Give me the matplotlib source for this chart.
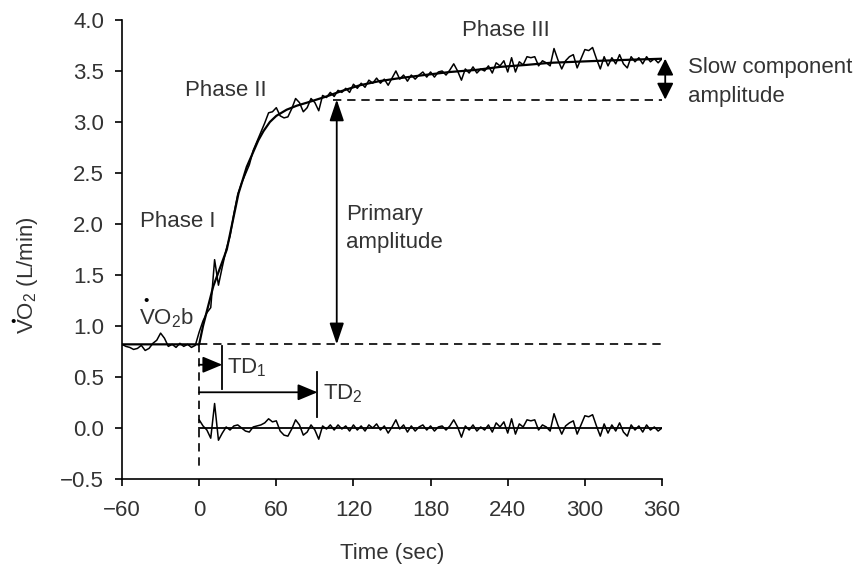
import matplotlib
matplotlib.use("Agg")
import matplotlib.pyplot as plt

plt.rcParams['font.family'] = ['Liberation Sans', 'DejaVu Sans']
plt.rcParams['mathtext.fontset'] = 'custom'
plt.rcParams['mathtext.rm'] = 'Liberation Sans'
plt.rcParams['mathtext.it'] = 'Liberation Sans:italic'

TXT = '#333333'
FS = 16

# breath-by-breath VO2 (L/min), every 3 s from -60 to 360
t_data = list(range(-60, 361, 3))
vo2_pre = [0.82, 0.80, 0.79, 0.77, 0.78, 0.81, 0.76, 0.78, 0.83, 0.86,
           0.93, 0.88, 0.80, 0.82, 0.79, 0.83, 0.80, 0.82, 0.79, 0.81]
vo2_ex = [0.94, 1.05, 1.13, 1.18, 1.65, 1.40, 1.58, 1.75, 1.88, 2.10,
          2.29, 2.40, 2.49, 2.58, 2.72, 2.81, 2.90, 2.99, 3.09, 3.10,
          3.14, 3.06, 3.04, 3.05, 3.13, 3.23, 3.19, 3.10, 3.14, 3.23,
          3.19, 3.11, 3.26, 3.24, 3.29, 3.25, 3.31, 3.29, 3.33, 3.29,
          3.37, 3.33, 3.38, 3.34, 3.41, 3.38, 3.43, 3.38, 3.42, 3.36,
          3.43, 3.50, 3.42, 3.46, 3.40, 3.46, 3.42, 3.46, 3.49, 3.44,
          3.49, 3.44, 3.49, 3.50, 3.46, 3.51, 3.57, 3.50, 3.41, 3.52,
          3.48, 3.54, 3.48, 3.52, 3.50, 3.55, 3.48, 3.58, 3.55, 3.60,
          3.49, 3.63, 3.49, 3.59, 3.56, 3.64, 3.63, 3.64, 3.55, 3.60,
          3.58, 3.55, 3.72, 3.61, 3.52, 3.60, 3.64, 3.66, 3.53, 3.62,
          3.71, 3.70, 3.73, 3.62, 3.52, 3.64, 3.55, 3.63, 3.57, 3.66,
          3.57, 3.53, 3.64, 3.59, 3.63, 3.57, 3.64, 3.59, 3.62, 3.58,
          3.62]
vo2 = vo2_pre + vo2_ex

# model fit
t_fit = [-60, 0, 3, 11, 21.5, 30.6, 37, 46, 50, 55, 60, 68, 76, 84, 99, 110,
         125, 140, 156, 175, 195, 215, 234, 255, 273, 292, 312, 335, 360]
vo2_fit = [0.82, 0.82, 1.00, 1.39, 1.75, 2.30, 2.56, 2.82, 2.91, 3.00, 3.06,
           3.12, 3.16, 3.19, 3.25, 3.30, 3.36, 3.40, 3.43, 3.46, 3.49, 3.51,
           3.54, 3.56, 3.58, 3.59, 3.60, 3.61, 3.62]

# residuals
t_res = list(range(0, 361, 3))
resid = [0.08, 0.02, -0.02, -0.10, 0.24, -0.12, -0.05, 0.01, -0.02, 0.02,
         0.03, 0.00, -0.03, -0.04, 0.01, 0.02, 0.03, 0.05, 0.09, 0.06,
         0.07, -0.03, -0.07, -0.08, -0.01, 0.08, 0.03, -0.07, -0.04, 0.03,
         -0.02, -0.11, 0.02, -0.01, 0.03, -0.02, 0.03, -0.01, 0.02, -0.03,
         0.03, -0.02, 0.02, -0.03, 0.03, 0.00, 0.04, -0.02, 0.02, -0.05,
         0.01, 0.08, -0.01, 0.03, -0.04, 0.02, -0.03, 0.01, 0.03, -0.02,
         0.02, -0.03, 0.01, 0.02, -0.02, 0.02, 0.08, 0.01, -0.09, 0.02,
         -0.02, 0.03, -0.03, 0.01, -0.02, 0.03, -0.04, 0.05, 0.01, 0.06,
         -0.05, 0.09, -0.06, 0.04, 0.01, 0.08, 0.07, 0.08, -0.02, 0.03,
         0.01, -0.03, 0.14, 0.03, -0.06, 0.02, 0.05, 0.07, -0.06, 0.03,
         0.12, 0.11, 0.13, 0.02, -0.08, 0.04, -0.05, 0.03, -0.03, 0.05,
         -0.04, -0.08, 0.03, -0.02, 0.02, -0.04, 0.03, -0.02, 0.01, -0.03,
         0.00]

baseline = 0.82
primary_top = 3.22
end_value = 3.62
td1 = 18
td2 = 92

x_ticks = [-60, 0, 60, 120, 180, 240, 300, 360]
y_ticks = [-0.5, 0.0, 0.5, 1.0, 1.5, 2.0, 2.5, 3.0, 3.5, 4.0]

fig = plt.figure(figsize=(8.63, 5.69), dpi=100)
ax = fig.add_axes([0.1414, 0.1582, 0.6257, 0.8067])

ax.plot(t_data, vo2, color='black', lw=1.1)
ax.plot(t_fit, vo2_fit, color='black', lw=1.6)
ax.plot(t_res, resid, color='black', lw=1.1)
ax.plot([0, 360], [0, 0], color='black', lw=1.3)

dash = (0, (5, 3.5))
ax.plot([0, 360], [baseline, baseline], color='black', lw=1.2, ls=dash)
ax.plot([0, 0], [baseline, -0.38], color='black', lw=1.2, ls=dash)
ax.plot([104, 360], [primary_top, primary_top], color='black', lw=1.2, ls=dash)

# arrows
big = dict(arrowstyle='<|-|>,head_length=0.65,head_width=0.22', color='black',
           lw=1.3, shrinkA=0, shrinkB=0, mutation_scale=20)
ax.annotate('', xy=(107, primary_top), xytext=(107, baseline), arrowprops=big)
small = dict(arrowstyle='<|-|>,head_length=0.5,head_width=0.25', color='black',
             lw=1.3, shrinkA=0, shrinkB=0, mutation_scale=20)
ax.annotate('', xy=(362.5, end_value), xytext=(362.5, primary_top),
            arrowprops=small, annotation_clip=False)
one = dict(arrowstyle='-|>,head_length=0.6,head_width=0.25', color='black',
           lw=1.3, shrinkA=0, shrinkB=0, mutation_scale=20)
ax.annotate('', xy=(td1, 0.62), xytext=(0, 0.62), arrowprops=one)
ax.annotate('', xy=(td2, 0.35), xytext=(0, 0.35), arrowprops=one)
ax.plot([td1, td1], [0.38, 0.80], color='black', lw=1.3)
ax.plot([td2, td2], [0.11, 0.55], color='black', lw=1.3)

# labels
kw = dict(fontsize=FS, color=TXT, va='center', ha='left')
ax.text(-46, 2.02, 'Phase I', **kw)
ax.text(-11, 3.31, 'Phase II', **kw)
ax.text(204.5, 3.90, 'Phase III', **kw)
ax.text(114, 2.09, 'Primary', **kw)
ax.text(114, 1.82, 'amplitude', **kw)
ax.text(380, 3.53, 'Slow component', **kw)
ax.text(380, 3.25, 'amplitude', **kw)
ax.text(21.5, 0.59, 'TD$_1$', **kw)
ax.text(96, 0.34, 'TD$_2$', **kw)
ax.text(-47, 1.08, 'VO$_2$b', **kw)
ax.text(-41.5, 1.245, '\u2022', fontsize=11, color='black', ha='center', va='center')

ax.set_xlim(-60, 360)
ax.set_ylim(-0.5, 4.0)
ax.set_xticks(x_ticks)
ax.set_yticks(y_ticks)
ax.set_xticklabels([str(v) if v >= 0 else '\u2212' + str(-v) for v in x_ticks])
ax.set_yticklabels(['%.1f' % v if v >= 0 else '\u2212%.1f' % -v for v in y_ticks])
ax.tick_params(direction='out', length=5, width=1.2, labelsize=FS,
               labelcolor=TXT, color='black')
ax.tick_params(axis='y', pad=8)
ax.tick_params(axis='x', pad=10)
for s in ['top', 'right']:
    ax.spines[s].set_visible(False)
for s in ['left', 'bottom']:
    ax.spines[s].set_linewidth(1.2)

fig.text(392 / 863, 1 - 553 / 569, 'Time (sec)', fontsize=FS, color=TXT,
         ha='center', va='center')
fig.text(28 / 863, 1 - 275 / 569, 'VO$_2$ (L/min)', fontsize=FS, color=TXT,
         ha='center', va='center', rotation=90)
fig.text(13 / 863, 1 - 322 / 569, '\u2022', fontsize=11, color='black',
         ha='center', va='center')

fig.savefig('out.png', dpi=100)
